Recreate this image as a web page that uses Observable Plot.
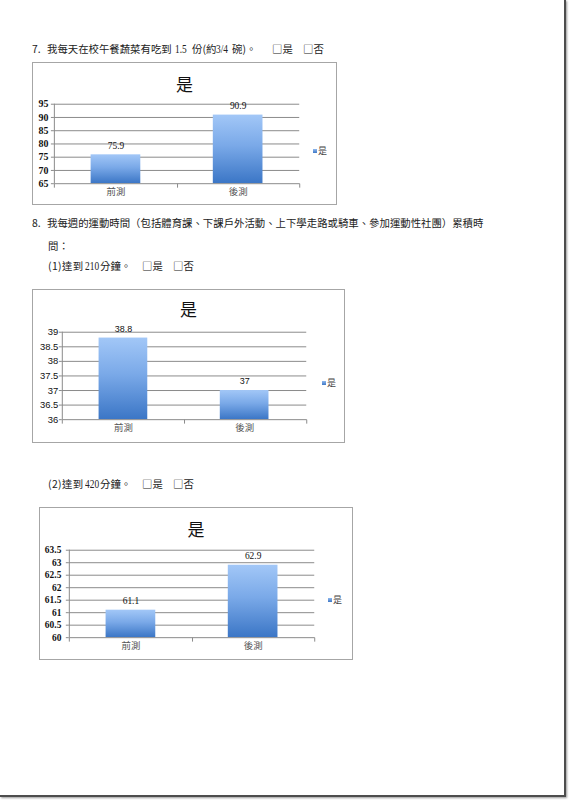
<!DOCTYPE html>
<html>
<head>
<meta charset="utf-8">
<script src="https://cdn.jsdelivr.net/npm/d3@7"></script>
<script src="https://cdn.jsdelivr.net/npm/@observablehq/plot@0.6"></script>
<style>
  html, body { margin: 0; padding: 0; background: #fff; }
  #page { position: relative; width: 569px; height: 801px; overflow: hidden; background: #fff; }
  .edge { position: absolute; left: 0; top: 0; width: 564px; height: 795px;
          border-right: 2px solid #4d4d4d; border-bottom: 2px solid #4d4d4d;
          box-shadow: 1px 1px 2px #999; }
  .q { position: absolute; font-family: "Noto Sans CJK TC", "Noto Sans", sans-serif;
       font-size: 10.4px; color: #222; white-space: nowrap; line-height: 14px; }
  .q.num { font-family: "Liberation Serif", "DejaVu Serif", serif; font-size: 12.5px;
           transform: scaleX(0.75); transform-origin: left center; }
  .q.wide { letter-spacing: 0.4px; }
  .box { position: absolute; border: 1px solid #a6a6a6; box-sizing: border-box; background: #fff; }
  .box svg { position: absolute; left: 0; top: 0; overflow: visible; }
  .title { position: absolute; left: 0; right: 0; text-align: center;
           font-family: "Noto Sans CJK TC", sans-serif; font-size: 17px; color: #111; line-height: 20px; }
  .legend { position: absolute; font-family: "Noto Sans CJK TC", sans-serif; font-size: 9px; color: #444;
            line-height: 10px; white-space: nowrap; }
  .legend i { display: inline-block; width: 4px; height: 4px; margin-right: 1px; vertical-align: 1px;
              background: linear-gradient(#8fb8ee, #3f78c6); }
</style>
</head>
<body>
<div id="page">
  <div class="edge"></div>
</div>
<script>
// ---- data ----
const categories = ["前測", "後測"];
const q7Values = [75.9, 90.9];
const q8aValues = [38.8, 37];
const q8bValues = [61.1, 62.9];
const q7Ticks = [65, 70, 75, 80, 85, 90, 95];
const q8aTicks = [36, 36.5, 37, 37.5, 38, 38.5, 39];
const q8bTicks = [60, 60.5, 61, 61.5, 62, 62.5, 63, 63.5];
const seriesName = "是";

const page = document.getElementById("page");

function addPieces(top, pieces) {
  for (const [txt, left, cls] of pieces) {
    const d = document.createElement("div");
    d.className = cls ? "q " + cls : "q";
    d.style.left = left + "px";
    d.style.top = top + "px";
    d.textContent = txt;
    page.appendChild(d);
  }
}

addPieces(42, [["7.", 32], ["我每天在校午餐蔬菜有吃到", 47], ["1.5", 175, "num"], ["份(約", 192],
               ["3/4", 216, "num"], ["碗)。", 232], ["□是", 272], ["□否", 303]]);
addPieces(216, [["8.", 32], ["我每週的運動時間（包括體育課、下課戶外活動、上下學走路或騎車、參加運動性社團）累積時", 47]]);
addPieces(239, [["問：", 48]]);
addPieces(259, [["(1)達到", 48, "wide"], ["210", 85, "num"], ["分鐘。", 100], ["□是", 142], ["□否", 173]]);
addPieces(477, [["(2)達到", 48, "wide"], ["420", 85, "num"], ["分鐘。", 100], ["□是", 142], ["□否", 173]]);

function axisLines(scales, dims) {
  const {width, height, marginLeft, marginRight, marginTop, marginBottom} = dims;
  const x0 = marginLeft + 0.5, x1 = width - marginRight + 0.5, yb = height - marginBottom + 0.5;
  const x = scales.x;
  const bw = x.bandwidth();
  const a = x(categories[0]), b = x(categories[1]);
  const mid = Math.round(a + bw + (b - a - bw) / 2) + 0.5;
  const g = d3.create("svg:g").attr("stroke", "#8a8a8a").attr("fill", "none").attr("stroke-width", 1);
  g.append("line").attr("x1", x0).attr("x2", x0).attr("y1", marginTop).attr("y2", yb);
  g.append("line").attr("x1", x0).attr("x2", x1).attr("y1", yb).attr("y2", yb);
  for (const xx of [x0, mid, x1]) {
    g.append("line").attr("x1", xx).attr("x2", xx).attr("y1", yb).attr("y2", yb + 4);
  }
  return g.node();
}

function gradientDefs(id) {
  return () => {
    const defs = d3.create("svg:defs");
    const lg = defs.append("linearGradient").attr("id", id)
      .attr("x1", 0).attr("y1", 0).attr("x2", 0).attr("y2", 1);
    lg.append("stop").attr("offset", "0%").attr("stop-color", "#a2c7f7");
    lg.append("stop").attr("offset", "45%").attr("stop-color", "#7aa9e8");
    lg.append("stop").attr("offset", "100%").attr("stop-color", "#3b76c6");
    return defs.node();
  };
}

function makeChart(cfg) {
  const data = categories.map((c, i) => ({cat: c, v: cfg.values[i]}));
  const lo = cfg.ticks[0], hi = cfg.ticks[cfg.ticks.length - 1];
  const box = document.createElement("div");
  box.className = "box";
  Object.assign(box.style, {left: cfg.left + "px", top: cfg.top + "px", width: cfg.width + "px", height: cfg.height + "px"});

  const title = document.createElement("div");
  title.className = "title";
  title.style.top = (cfg.titleY - 10) + "px";
  title.textContent = seriesName;
  box.appendChild(title);

  const chart = Plot.plot({
    width: cfg.width,
    height: cfg.height,
    marginLeft: cfg.ml, marginRight: cfg.mr, marginTop: cfg.mt, marginBottom: cfg.mb,
    style: {background: "transparent", overflow: "visible"},
    x: {domain: categories, paddingInner: 0.595, paddingOuter: 0.2976, axis: null, label: null},
    y: {domain: [lo, hi], axis: null, label: null},
    marks: [
      gradientDefs(cfg.gid),
      Plot.ruleY(cfg.ticks.slice(1), {stroke: "#8a8a8a", strokeWidth: 1}),
      Plot.barY(data, {x: "cat", y1: lo, y2: "v", fill: `url(#${cfg.gid})`}),
      (i, s, v, d) => axisLines(s, d),
      Plot.axisY({ticks: cfg.ticks, tickSize: 3, tickPadding: cfg.tickPad, stroke: "#8a8a8a", fill: "#111",
                  tickFormat: t => String(t),
                  fontSize: cfg.tickFontSize, fontFamily: cfg.numFont, fontWeight: cfg.numWeight, label: null}),
      Plot.axisX({tickSize: 0, tickPadding: 5, fill: "#555", fontSize: 9.5,
                  fontFamily: "Noto Sans CJK TC", label: null}),
      Plot.text(data, {x: "cat", y: "v", text: d => String(d.v), dy: -9, fill: "#111",
                       fontSize: cfg.valFontSize, fontFamily: cfg.numFont})
    ]
  });
  box.appendChild(chart);

  const lg = document.createElement("div");
  lg.className = "legend";
  lg.style.left = cfg.legendX + "px";
  lg.style.top = (cfg.legendY - 5) + "px";
  lg.innerHTML = "<i></i>" + seriesName;
  box.appendChild(lg);

  page.appendChild(box);
}

makeChart({values: q7Values, ticks: q7Ticks, gid: "g7",
  left: 32, top: 62, width: 305, height: 143, ml: 21, mr: 37, mt: 41, mb: 22,
  titleY: 21, legendX: 280, legendY: 88, tickPad: 3,
  numFont: "Liberation Serif", numWeight: "bold", tickFontSize: 10, valFontSize: 9.5});

makeChart({values: q8aValues, ticks: q8aTicks, gid: "g8a",
  left: 32, top: 289, width: 313, height: 154, ml: 29, mr: 38, mt: 42, mb: 24,
  titleY: 19, legendX: 289, legendY: 93, tickPad: 1,
  numFont: "Liberation Sans", numWeight: "normal", tickFontSize: 9.5, valFontSize: 9});

makeChart({values: q8bValues, ticks: q8bTicks, gid: "g8b",
  left: 39, top: 507, width: 314, height: 153, ml: 29, mr: 38, mt: 42, mb: 23,
  titleY: 21, legendX: 288, legendY: 92, tickPad: 5,
  numFont: "Liberation Serif", numWeight: "bold", tickFontSize: 9.5, valFontSize: 9.5});
</script>
</body>
</html>
